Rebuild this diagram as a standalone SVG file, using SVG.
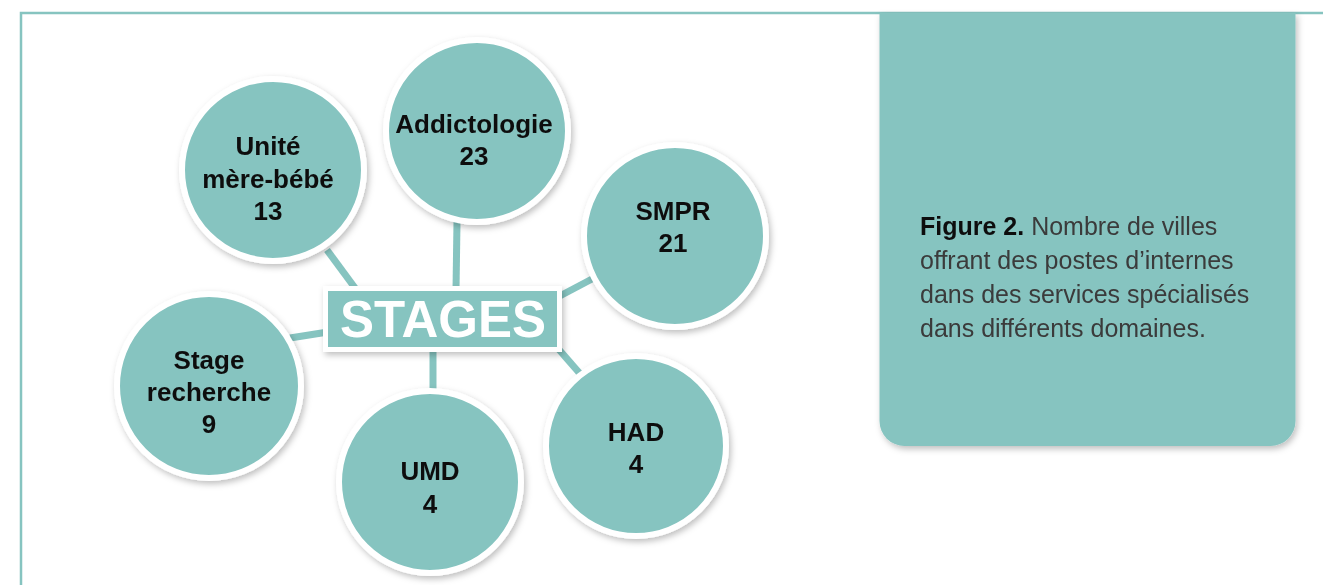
<svg xmlns="http://www.w3.org/2000/svg" width="1323" height="585" viewBox="0 0 1323 585">
<style>
.lbl{font-family:"Liberation Sans",Arial,sans-serif;font-weight:bold;font-size:26px;fill:#111;text-anchor:middle}
.node{fill:#86c4c0;stroke:#fff;stroke-width:6}
.conn{stroke:#86c4c0;stroke-width:7;fill:none}
.cap{font-family:"Liberation Sans",Arial,sans-serif;font-size:25px;fill:#3a3a3a}
</style>
<defs>
<filter id="sh" x="-20%" y="-20%" width="140%" height="140%">
<feDropShadow dx="2" dy="3" stdDeviation="3" flood-color="#000" flood-opacity="0.25"/>
</filter>
</defs>
<rect width="1323" height="585" fill="#fff"/>
<g id="frame" fill="none" stroke="#86c4c0" stroke-width="2.5">
<path d="M21 585 V13 H1323"/>
</g>
<g id="connectors" class="conn">
<line x1="327" y1="250" x2="358" y2="292"/>
<line x1="457" y1="222" x2="456" y2="290"/>
<line x1="592" y1="279" x2="556" y2="298"/>
<line x1="555" y1="345" x2="582" y2="376"/>
<line x1="433" y1="348" x2="433" y2="392"/>
<line x1="290" y1="338" x2="328" y2="332"/>
</g>
<g id="stages" filter="url(#sh)">
<rect x="325.5" y="288.5" width="234" height="61" fill="#86c4c0" stroke="#fff" stroke-width="5"/>
<text x="443" y="337" font-family="'Liberation Sans',Arial,sans-serif" font-weight="bold" font-size="51" fill="#fff" text-anchor="middle">STAGES</text>
</g>
<g id="n-unite" filter="url(#sh)">
<circle class="node" cx="273" cy="170" r="91"/>
<text class="lbl" x="268" y="155">Unité</text>
<text class="lbl" x="268" y="188">mère-bébé</text>
<text class="lbl" x="268" y="220">13</text>
</g>
<g id="n-addicto" filter="url(#sh)">
<circle class="node" cx="477" cy="131" r="91"/>
<text class="lbl" x="474" y="133">Addictologie</text>
<text class="lbl" x="474" y="165">23</text>
</g>
<g id="n-smpr" filter="url(#sh)">
<circle class="node" cx="675" cy="236" r="91"/>
<text class="lbl" x="673" y="220">SMPR</text>
<text class="lbl" x="673" y="252">21</text>
</g>
<g id="n-had" filter="url(#sh)">
<circle class="node" cx="636" cy="446" r="90"/>
<text class="lbl" x="636" y="441">HAD</text>
<text class="lbl" x="636" y="473">4</text>
</g>
<g id="n-umd" filter="url(#sh)">
<circle class="node" cx="430" cy="482" r="91"/>
<text class="lbl" x="430" y="480">UMD</text>
<text class="lbl" x="430" y="513">4</text>
</g>
<g id="n-recherche" filter="url(#sh)">
<circle class="node" cx="209" cy="386" r="92"/>
<text class="lbl" x="209" y="369">Stage</text>
<text class="lbl" x="209" y="401">recherche</text>
<text class="lbl" x="209" y="433">9</text>
</g>
<g id="caption" filter="url(#sh)">
<path d="M879.5 13 H1295.5 V421 A25 25 0 0 1 1270.5 446 H904.5 A25 25 0 0 1 879.5 421 Z" fill="#86c4c0"/>
<text class="cap" x="920" y="235"><tspan font-weight="bold" fill="#111">Figure 2.</tspan> Nombre de villes</text>
<text class="cap" x="920" y="269">offrant des postes d’internes</text>
<text class="cap" x="920" y="303">dans des services spécialisés</text>
<text class="cap" x="920" y="337">dans différents domaines.</text>
</g>
</svg>
